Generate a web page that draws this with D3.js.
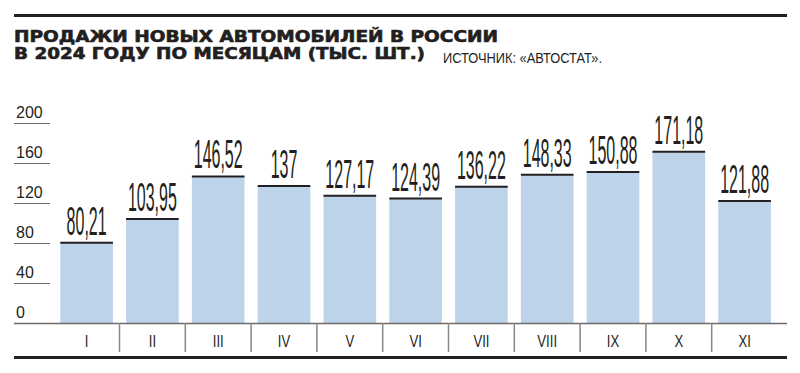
<!DOCTYPE html>
<html lang="ru">
<head>
<meta charset="UTF-8">
<title>Продажи новых автомобилей</title>
<script src="https://cdn.jsdelivr.net/npm/d3@7"></script>
<style>
  body { margin: 0; background: #fff; }
  text { fill: #231f20; }
</style>
</head>
<body>
<script>
var months = ['I', 'II', 'III', 'IV', 'V', 'VI', 'VII', 'VIII', 'IX', 'X', 'XI'];
var sales = [80.21, 103.95, 146.52, 137, 127.17, 124.39, 136.22, 148.33, 150.88, 171.18, 121.88];
var yTicks = [0, 40, 80, 120, 160, 200];

var width = 800, height = 373;
var sans = '"Liberation Sans", Arial, sans-serif';

var svg = d3.select('body').append('svg')
    .attr('width', width)
    .attr('height', height);

// header
svg.append('rect').attr('x', 14).attr('y', 14).attr('width', 773).attr('height', 3).attr('fill', '#231f20');

svg.append('text')
    .attr('x', 14).attr('y', 42)
    .attr('textLength', 484).attr('lengthAdjust', 'spacingAndGlyphs')
    .attr('stroke', '#231f20').attr('stroke-width', 0.6)
    .style('font', '900 15px "DejaVu Sans", sans-serif')
    .text('ПРОДАЖИ НОВЫХ АВТОМОБИЛЕЙ В РОССИИ');
svg.append('text')
    .attr('x', 14).attr('y', 59)
    .attr('textLength', 411).attr('lengthAdjust', 'spacingAndGlyphs')
    .attr('stroke', '#231f20').attr('stroke-width', 0.6)
    .style('font', '900 15px "DejaVu Sans", sans-serif')
    .text('В 2024 ГОДУ ПО МЕСЯЦАМ (ТЫС. ШТ.)');
svg.append('text')
    .attr('x', 443).attr('y', 63)
    .attr('textLength', 159).attr('lengthAdjust', 'spacingAndGlyphs')
    .style('font', '14.5px ' + sans)
    .text('ИСТОЧНИК: «АВТОСТАТ».');

// scales
var x = d3.scaleBand()
    .domain(months)
    .range([53.7, 777.5])
    .paddingInner(0.2)
    .paddingOuter(0.1);

var y = d3.scaleLinear()
    .domain([0, 200])
    .range([323, 123]);

// y ticks
var yAxis = svg.append('g');
yAxis.selectAll('line')
    .data(yTicks.filter(function (d) { return d > 0; }))
    .enter().append('line')
    .attr('x1', 14).attr('x2', 50)
    .attr('y1', function (d) { return y(d) + 0.5; })
    .attr('y2', function (d) { return y(d) + 0.5; })
    .attr('stroke', '#6d6a69').attr('stroke-width', 1);
yAxis.selectAll('text')
    .data(yTicks)
    .enter().append('text')
    .attr('x', 16)
    .attr('y', function (d) { return y(d) - 5; })
    .style('font', '16px ' + sans)
    .text(function (d) { return d; });

// bars
svg.selectAll('rect.bar')
    .data(sales)
    .enter().append('rect')
    .attr('class', 'bar')
    .attr('x', function (d, i) { return x(months[i]); })
    .attr('y', function (d) { return y(d); })
    .attr('width', x.bandwidth())
    .attr('height', function (d) { return y(0) - y(d); })
    .attr('fill', '#bcd3ea');

svg.selectAll('line.cap')
    .data(sales)
    .enter().append('line')
    .attr('class', 'cap')
    .attr('x1', function (d, i) { return x(months[i]); })
    .attr('x2', function (d, i) { return x(months[i]) + x.bandwidth(); })
    .attr('y1', function (d) { return y(d); })
    .attr('y2', function (d) { return y(d); })
    .attr('stroke', '#231f20').attr('stroke-width', 2);

// value labels, very condensed
var sx = 0.40;
svg.selectAll('text.val')
    .data(sales)
    .enter().append('text')
    .attr('class', 'val')
    .attr('transform', function (d, i) {
        var cx = x(months[i]) + x.bandwidth() / 2;
        return 'translate(' + cx + ',' + (y(d) - 8) + ') scale(' + sx + ',1)';
    })
    .attr('text-anchor', 'middle')
    .style('font', '40px ' + sans)
    .text(function (d) { return String(d).replace('.', ','); });

// baseline and category separators
svg.append('line')
    .attr('x1', 14).attr('x2', 787)
    .attr('y1', y(0) + 0.5).attr('y2', y(0) + 0.5)
    .attr('stroke', '#6d6a69').attr('stroke-width', 1.5);

var step = x.step();
svg.selectAll('line.sep')
    .data(months.slice(1))
    .enter().append('line')
    .attr('class', 'sep')
    .attr('x1', function (d) { return x(d) - step * x.paddingInner() / 2; })
    .attr('x2', function (d) { return x(d) - step * x.paddingInner() / 2; })
    .attr('y1', y(0)).attr('y2', 352)
    .attr('stroke', '#8a8786').attr('stroke-width', 1.5);

svg.selectAll('text.cat')
    .data(months)
    .enter().append('text')
    .attr('class', 'cat')
    .attr('transform', function (d) {
        return 'translate(' + (x(d) + x.bandwidth() / 2) + ',347) scale(0.82,1)';
    })
    .attr('text-anchor', 'middle')
    .style('font', '16px ' + sans)
    .text(function (d) { return d; });

svg.append('rect').attr('x', 14).attr('y', 356).attr('width', 773).attr('height', 3).attr('fill', '#231f20');
</script>
</body>
</html>
